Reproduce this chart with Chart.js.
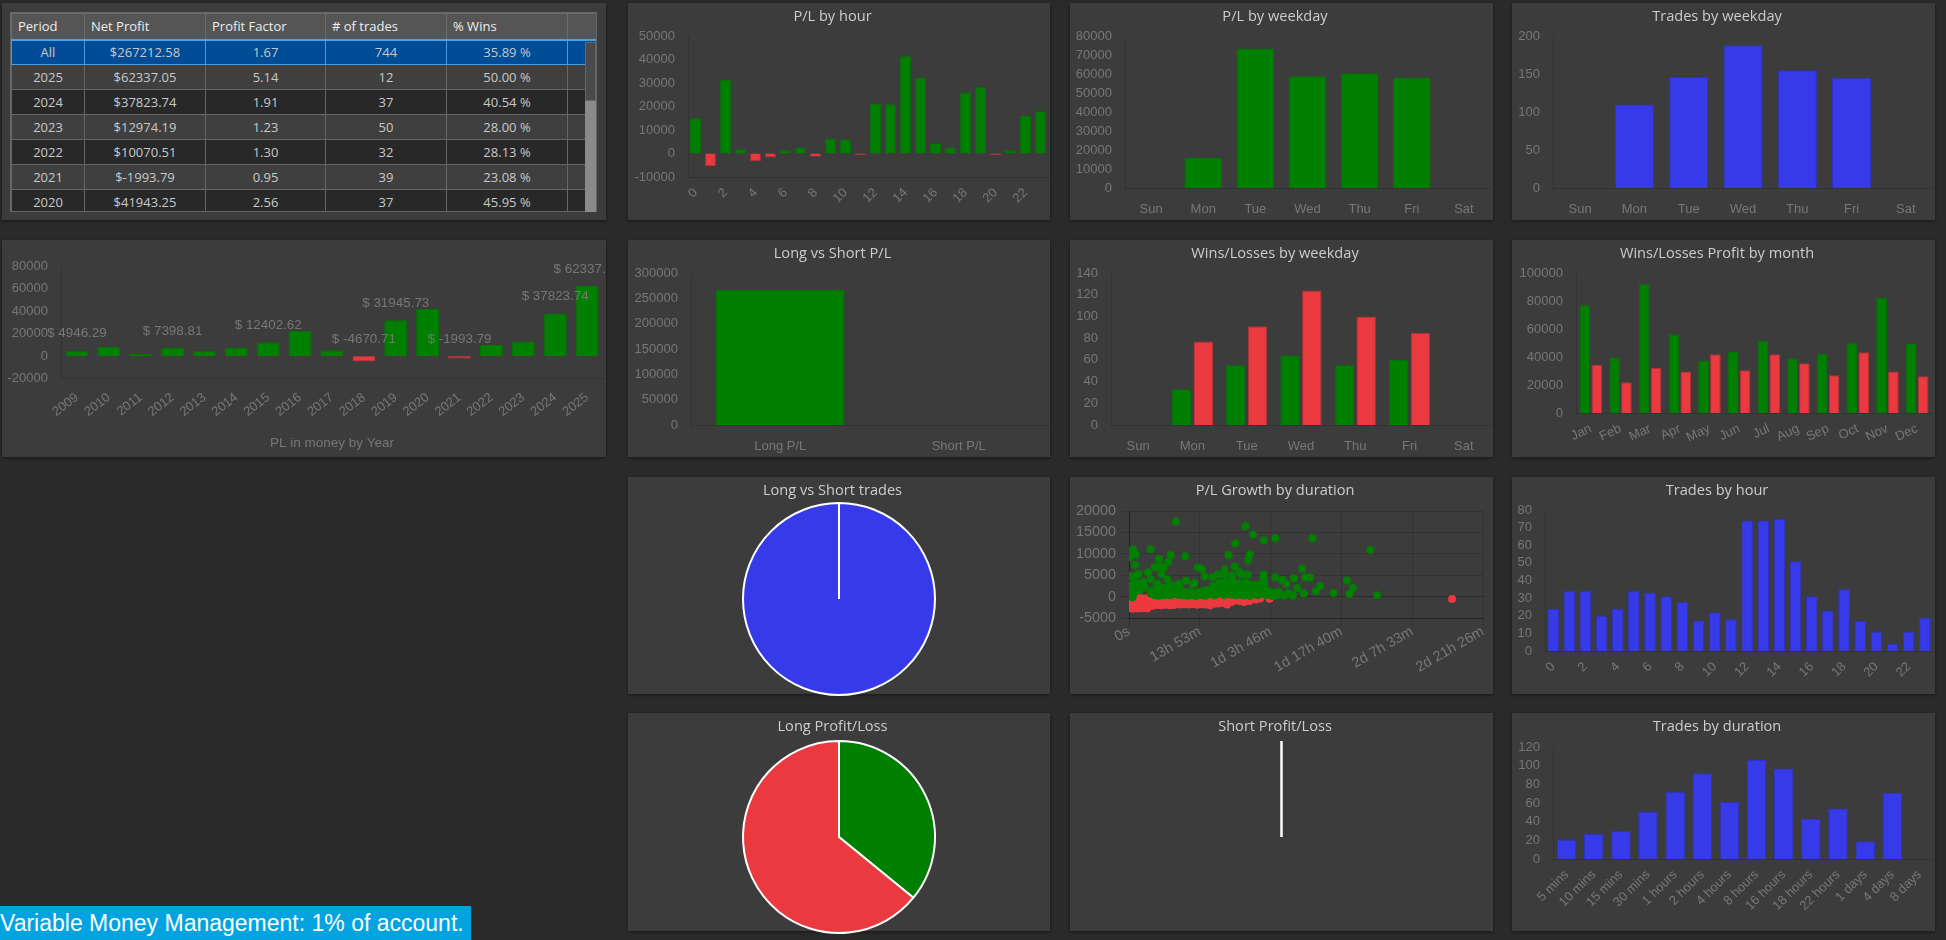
<!DOCTYPE html>
<html>
<head>
<meta charset="utf-8">
<title>Strategy report</title>
<script src="https://cdn.jsdelivr.net/npm/chart.js@4/dist/chart.umd.min.js"></script>
<style>
  html, body { margin: 0; padding: 0; background: #2a2a2a; width: 1946px; height: 940px; overflow: hidden; }
  .card { position: absolute; background: #3c3c3c; box-shadow: 0 1px 3px rgba(0,0,0,.45); }
  .card canvas { position: absolute; left: 0; top: 0; }
  #tableBox { position: absolute; left: 8px; top: 9px; width: 587px; height: 200px; overflow: hidden; border: 1px solid #666; box-sizing: border-box; }
  table { border-collapse: collapse; table-layout: fixed; width: 586px; font: 13px "Open Sans", sans-serif; color: #c8c8c8; }
  th { background: #555; color: #eee; font-weight: normal; text-align: left; height: 26px; padding: 0 0 0 6px; border: 1px solid #6c6c6c; border-bottom: 2px solid #4aa3e8; box-sizing: border-box; }
  td { height: 25px; padding: 0; text-align: center; border: 1px solid #666; box-sizing: border-box; }
  tr.even td { background: #3f3f3f; }
  tr.odd td { background: #282828; }
  tr.sel td { background: #004c97; border-color: #4a9be0; }
  #scrollTrack { position: absolute; left: 583px; top: 39px; width: 11px; height: 170px; background: #8a8a8a; }
  #scrollThumb { position: absolute; left: 583px; top: 39px; width: 11px; height: 59px; background: #4a4a4a; border: 1px solid #666; box-sizing: border-box; }
  #banner { position: absolute; left: 0; top: 906px; width: 471px; height: 34px; background: #03a3e0; color: #fff; font: 23px/34px "Liberation Sans", Arial, sans-serif; white-space: nowrap; }
</style>
</head>
<body>
<div id="banner">Variable Money Management: 1% of account.</div>
<script>
// table
const tableHeaders = ["Period", "Net Profit", "Profit Factor", "# of trades", "% Wins", ""];
const tablePeriods = ["All", "2025", "2024", "2023", "2022", "2021", "2020"];
const tableProfit = ["$267212.58", "$62337.05", "$37823.74", "$12974.19", "$10070.51", "$-1993.79", "$41943.25"];
const tableFactor = ["1.67", "5.14", "1.91", "1.23", "1.30", "0.95", "2.56"];
const tableTrades = ["744", "12", "37", "50", "32", "39", "37"];
const tableWins = ["35.89 %", "50.00 %", "40.54 %", "28.00 %", "28.13 %", "23.08 %", "45.95 %"];

// year chart
const years = ["2009","2010","2011","2012","2013","2014","2015","2016","2017","2018","2019","2020","2021","2022","2023","2024","2025"];
const yearProfit = [4946.29, 8470, 2000, 7398.81, 4700, 7300, 12402.62, 22500, 5300, -4670.71, 31945.73, 41943.25, -1993.79, 10070.51, 12974.19, 37823.74, 62337.05];
const labelledYears = ["2009", "2012", "2015", "2018", "2019", "2021", "2024", "2025"];

// hours and weekdays
const hours = ["0","1","2","3","4","5","6","7","8","9","10","11","12","13","14","15","16","17","18","19","20","21","22","23"];
const hourProfit = [15000, -5300, 31400, 1800, -3300, -1700, 1400, 2400, -1400, 6400, 6000, -600, 21200, 21000, 41400, 32300, 4400, 2600, 26000, 28500, -600, 1400, 16100, 18000];
const hourTrades = [24, 34, 34, 20, 24, 34, 33, 31, 28, 17, 22, 18, 74, 74, 75, 51, 31, 23, 35, 17, 11, 4, 11, 19];
const weekdays = ["Sun", "Mon", "Tue", "Wed", "Thu", "Fri", "Sat"];
const weekdayProfit = [0, 15800, 73400, 58800, 60400, 58100, 0];
const weekdayTrades = [0, 110, 146, 188, 155, 145, 0];
const weekdayWins = [0, 33, 55, 64, 55, 60, 0];
const weekdayLosses = [0, 77, 91, 124, 100, 85, 0];

// long vs short
const sideLabels = ["Long P/L", "Short P/L"];
const sideProfit = [267212.58, 0];
const sideTrades = [744, 0];
const longResults = [267, 477];
const shortResults = [0, 0];

// months
const months = ["Jan","Feb","Mar","Apr","May","Jun","Jul","Aug","Sep","Oct","Nov","Dec"];
const monthWins = [77000, 39600, 92000, 56200, 37400, 43600, 51700, 38900, 42200, 49800, 82500, 49300];
const monthLosses = [34400, 22000, 32200, 29600, 41900, 30600, 41900, 35500, 27000, 43400, 29600, 26300];

// trades by duration
const durations = ["5 mins","10 mins","15 mins","30 mins","1 hours","2 hours","4 hours","8 hours","16 hours","18 hours","22 hours","1 days","4 days","8 days"];
const durationTrades = [21, 27, 30, 51, 72, 92, 61, 106, 97, 43, 54, 19, 71, 0];

// scatter: [minutes held, profit]
const durationTickValues = [0, 833, 1666, 2500, 3333, 4166];
const durationTickLabels = ["0s", "13h 53m", "1d 3h 46m", "1d 17h 40m", "2d 7h 33m", "2d 21h 26m"];
const winningTrades = [
  [553,17550],[1372,16460],[1458,14430],[1588,13180],[1721,13650],[2160,13650],[1250,12480],[2838,10920],
  [255,11080],[47,11000],[27,10370],[78,9830],[8,9200],[490,9750],[662,9440],[1172,9750],[1423,9900],[1403,8580],
  [353,8810],[463,8110],[71,7410],[302,6860],[361,7020],[408,6860],[811,6860],[858,6470],[1243,7020],[2038,6550],
  [1125,6320],[1305,5690],[1584,5150],[1399,5150],[1325,5150],[8,4760],[114,5300],[55,4680],[223,5690],[380,5300],
  [447,4130],[255,4130],[670,3740],[772,3200],[753,2810],[890,4680],[980,4520],[1047,5150],[1125,5150],[1215,4910],
  [1584,4130],[1721,4520],[1803,3900],[1940,4290],[2074,4520],[2132,4450],[1850,2960],[2564,3740],[2634,2030],
  [2250,2500],[2200,1250],[1980,2030],[2407,860],[2595,620],[2920,310],[2058,700],[1929,230],[1811,230],
  [40,-160],[8,600],[50,450],[8,1900],[90,1400],[8,2600],[125,2600],[50,3000],[165,3400],[90,3100],[190,2100],[30,1200],[130,1500],
  [285,1500],[310,300],[330,3000],[345,2400],[370,900],[395,2000],[415,300],[455,1700],[480,2700],[505,600],[540,2500],[580,400],[595,3000],[620,1300],[650,500],[690,200],
  [730,1000],[755,350],[790,150],[825,1100],[860,400],[900,200],[935,1600],[965,700],[990,2500],[1010,300],[1035,1500],[1060,3100],[1075,800],[1100,2200],[1120,400],[1140,3600],[1160,1300],
  [1185,2700],[1200,500],[1220,3400],[1245,1700],[1265,300],[1280,2400],[1300,900],[1320,3000],[1340,1500],[1365,400],[1380,2600],[1400,1000],[1425,200],[1445,2200],[1470,800],
  [1490,1500],[1515,300],[1540,2300],[1565,900],[1590,2900],[1610,400],[1640,1300],[1665,600],[1700,900],[1730,250],[1760,1100],[1790,500],[1830,300],[1875,800],
  [905,1100],[945,600],[1015,1400],[1050,2300],[1085,1600],[1095,3200],[1110,900],[1130,2600],[1150,1900],[1170,3000],[1195,1500],[1210,2300],[1230,900],[1255,2800],
  [1270,1300],[1295,3100],[1310,1900],[1330,700],[1350,2300],[1375,3300],[1390,1700],[1415,2900],[1435,1300],[1455,600],[1480,2700],[1505,1900],[1525,1000],[1555,3000],[1575,1600],[1600,700],
  [255,700],[270,1100],[295,500],[325,1300],[350,200],[385,1500],[405,800],[435,500],[460,1000],[490,300],[520,1200],[555,700],[600,1000],[635,250],[665,1000],[705,700],[745,300],
  [775,800],[810,500],[845,900],[880,1400],[920,500],[980,1200],[1025,750],[1145,600],[1240,500],[1345,250],[1620,900],[1680,200],[1745,750]
];
const losingTrades = [
  [3802,-550],[0,-300],[0,-900],[0,-1500],[0,-2100],[0,-2700],[40,-350],[45,-1000],[35,-1700],[40,-2300],[50,-2850],
  [85,-500],[90,-1200],[85,-1800],[95,-2400],[100,-2800],[135,-300],[140,-900],[135,-1500],[145,-2100],[150,-2700],
  [180,-500],[185,-1100],[180,-1700],[190,-2300],[200,-2600],[225,-300],[230,-900],[225,-1500],[235,-2100],[215,-2800],
  [270,-450],[275,-1100],[265,-1700],[270,-2200],[320,-300],[325,-900],[315,-1500],[330,-1950],[370,-500],[375,-1100],[365,-1650],[380,-2000],
  [420,-350],[425,-950],[415,-1500],[430,-1900],[470,-600],[475,-1200],[465,-1750],[480,-2000],[520,-400],[525,-1000],[515,-1600],[530,-1950],
  [570,-500],[575,-1150],[565,-1700],[610,-350],[615,-1000],[605,-1850],[660,-600],[665,-1300],[655,-1800],[710,-450],[715,-1100],[705,-1850],
  [760,-600],[765,-1250],[755,-1750],[810,-350],[815,-1000],[805,-1900],[860,-500],[865,-1200],[855,-1800],[910,-450],[915,-1100],[905,-1850],
  [960,-600],[965,-1300],[955,-2000],[1010,-400],[1015,-1000],[1005,-1650],[1060,-550],[1065,-1200],[1055,-1600],[1110,-700],[1115,-1500],
  [1160,-500],[1165,-1000],[1155,-1850],[1210,-450],[1215,-1200],[1260,-800],[1265,-500],[1305,-1000],[1350,-600],[1355,-1250],[1420,-1000],[1500,-700],[1545,-400],[1650,-350],[1655,-500]
];

// shared style
const GREEN = "#007f00", RED = "#eb3a3f", BLUE = "#363ae8";
const GREEN_EDGE = "#007500", RED_EDGE = "#b23237", BLUE_EDGE = "#2f33c8";
const TICK = "#777";
const tickFont = { family: '"Liberation Sans", Arial, sans-serif', size: 13 };
const titleFont = { family: '"Open Sans", sans-serif', size: 14.6, weight: "normal" };
const plainNumber = v => String(v);
Chart.defaults.animation = false;
Chart.defaults.devicePixelRatio = 1;
Chart.defaults.plugins.legend.display = false;
Chart.defaults.plugins.tooltip.enabled = false;

// titles sit left of the card centre in the original, the bottom one is over the plot
Chart.register({
  id: "titlePlace",
  afterLayout(chart) {
    const t = chart.titleBlock;
    if (!t || !t.options.display) return;
    if (t.options.position === "bottom") {
      t.left = chart.chartArea.left;
      t.right = chart.chartArea.right;
    } else {
      t.left = 0;
      t.right = chart.width - 13;
    }
  }
});

function makeCard(x, y, w, h, canvasH) {
  const div = document.createElement("div");
  div.className = "card";
  div.style.cssText = `left:${x}px;top:${y}px;width:${w}px;height:${h}px`;
  document.body.appendChild(div);
  const canvas = document.createElement("canvas");
  canvas.width = w;
  canvas.height = canvasH || h;
  canvas.style.width = w + "px";
  canvas.style.height = (canvasH || h) + "px";
  div.appendChild(canvas);
  return { div, canvas, x, y, w, h };
}

function titleOpts(text, plotTop, cardY) {
  return {
    display: !!text, text, color: "#ccc", font: titleFont,
    padding: { top: 5, bottom: plotTop - cardY - 5 - 17.5 }
  };
}

function barDataset(data, color, edge) {
  return { data, backgroundColor: color, borderColor: edge, borderWidth: 1 };
}

function signedDataset(data) {
  return {
    data,
    backgroundColor: data.map(v => v < 0 ? RED : GREEN),
    borderColor: data.map(v => v < 0 ? RED_EDGE : GREEN_EDGE),
    borderWidth: 1
  };
}

// bar chart in a card; plot is the wanted plot rectangle in page pixels
function barChart(box, plot, opt) {
  const c = makeCard(box[0], box[1], box[2], box[3]);
  return new Chart(c.canvas, {
    type: "bar",
    data: { labels: opt.labels, datasets: opt.datasets },
    options: {
      responsive: false,
      layout: { padding: { right: box[0] + box[2] - plot[1] } },
      plugins: { title: titleOpts(opt.title, plot[2], box[1]) },
      scales: {
        x: {
          grid: { display: false },
          border: { color: "rgba(0,0,0,.14)" },
          ticks: {
            color: TICK, font: tickFont, padding: opt.rotation ? 0 : 6,
            minRotation: opt.rotation || 0, maxRotation: opt.rotation || 0,
            autoSkip: !!opt.every2, maxTicksLimit: opt.every2 ? 12 : undefined
          },
          afterFit: s => { s.height = box[1] + box[3] - plot[3]; }
        },
        y: {
          min: opt.min, max: opt.max,
          grid: { display: false },
          border: { color: "rgba(0,0,0,.14)" },
          ticks: { color: TICK, font: tickFont, stepSize: opt.step, padding: 5, autoSkip: false, callback: plainNumber },
          afterFit: s => { s.width = plot[0] - box[0]; }
        }
      }
    }
  });
}

// draws radial white line for arcs with no size, as the original chart shows
const zeroArcLine = {
  id: "zeroArcLine",
  afterDatasetsDraw(chart) {
    const ctx = chart.ctx;
    chart.getDatasetMeta(0).data.forEach(arc => {
      if (arc.circumference !== 0) return;
      ctx.save();
      ctx.strokeStyle = "#fff";
      ctx.lineWidth = 2;
      ctx.beginPath();
      ctx.moveTo(arc.x, arc.y);
      ctx.lineTo(arc.x + Math.cos(arc.startAngle) * arc.outerRadius, arc.y + Math.sin(arc.startAngle) * arc.outerRadius);
      ctx.stroke();
      ctx.restore();
    });
  }
};

function pieChart(box, top, diameter, title, data, colors) {
  const canvasH = box[3] + 8;
  const c = makeCard(box[0], box[1], box[2], box[3], canvasH);
  return new Chart(c.canvas, {
    type: "pie",
    data: { labels: ["A", "B"], datasets: [{ data, backgroundColor: colors, borderColor: "#fff", borderWidth: 2 }] },
    options: {
      responsive: false,
      layout: { padding: { bottom: canvasH - (top - box[1]) - diameter } },
      plugins: { title: titleOpts(title, top, box[1]) }
    },
    plugins: [zeroArcLine]
  });
}

// year chart labels above bars, clipped by canvas edge
const yearValueLabels = {
  id: "yearValueLabels",
  afterDatasetsDraw(chart) {
    const ctx = chart.ctx;
    ctx.save();
    ctx.font = `13.4px ${tickFont.family}`;
    ctx.fillStyle = TICK;
    ctx.textAlign = "center";
    ctx.textBaseline = "middle";
    chart.getDatasetMeta(0).data.forEach((bar, i) => {
      if (!labelledYears.includes(years[i])) return;
      const v = yearProfit[i];
      ctx.fillText("$ " + v, bar.x, Math.min(bar.y, bar.base) - 17);
    });
    ctx.restore();
  }
};

// table card
const tableCard = makeCard(2, 3, 604, 217);
tableCard.canvas.remove();
const colWidths = [73, 121, 120, 121, 121, 30];
let html = "<table><colgroup>" + colWidths.map(w => `<col style="width:${w}px">`).join("") + "</colgroup><thead><tr>" +
  tableHeaders.map(h => `<th>${h}</th>`).join("") + "</tr></thead><tbody>";
tablePeriods.forEach((p, i) => {
  const cls = i === 0 ? "sel" : (i % 2 ? "even" : "odd");
  html += `<tr class="${cls}"><td>${p}</td><td>${tableProfit[i]}</td><td>${tableFactor[i]}</td><td>${tableTrades[i]}</td><td>${tableWins[i]}</td><td></td></tr>`;
});
html += "</tbody></table>";
const tableBox = document.createElement("div");
tableBox.id = "tableBox";
tableBox.innerHTML = html;
tableCard.div.appendChild(tableBox);
const track = document.createElement("div");
track.id = "scrollTrack";
const thumb = document.createElement("div");
thumb.id = "scrollThumb";
tableCard.div.appendChild(track);
tableCard.div.appendChild(thumb);

// year chart
{
  const box = [2, 240, 604, 217];
  const c = makeCard(box[0], box[1], box[2], box[3]);
  new Chart(c.canvas, {
    type: "bar",
    data: { labels: years, datasets: [signedDataset(yearProfit)] },
    options: {
      responsive: false,
      layout: { padding: { top: 26, right: 3 } },
      plugins: {
        title: {
          display: true, position: "bottom", text: "PL in money by Year", color: TICK,
          font: { family: tickFont.family, size: 13.5, weight: "normal" }, padding: { top: 5, bottom: 6 }
        }
      },
      scales: {
        x: {
          grid: { display: false },
          border: { color: "rgba(0,0,0,.14)" },
          ticks: { color: TICK, font: tickFont, padding: 3, minRotation: 38, maxRotation: 38, autoSkip: false },
          afterFit: s => { s.height = 51; }
        },
        y: {
          min: -20000, max: 80000,
          grid: { display: false },
          border: { color: "rgba(0,0,0,.14)" },
          ticks: { color: TICK, font: tickFont, stepSize: 20000, padding: 5, callback: plainNumber },
          afterFit: s => { s.width = 59; }
        }
      }
    },
    plugins: [yearValueLabels]
  });
}

// first row
barChart([628, 3, 422, 217], [688, 1048, 36, 177], {
  title: "P/L by hour", labels: hours, datasets: [signedDataset(hourProfit)],
  min: -10000, max: 50000, step: 10000, rotation: 45, every2: true
});
barChart([1070, 3, 423, 217], [1125, 1490, 36, 188], {
  title: "P/L by weekday", labels: weekdays, datasets: [signedDataset(weekdayProfit)],
  min: 0, max: 80000, step: 10000
});
barChart([1512, 3, 423, 217], [1553, 1933, 36, 188], {
  title: "Trades by weekday", labels: weekdays, datasets: [barDataset(weekdayTrades, BLUE, BLUE_EDGE)],
  min: 0, max: 200, step: 50
});

// second row
barChart([628, 240, 422, 217], [691, 1048, 273, 425], {
  title: "Long vs Short P/L", labels: sideLabels, datasets: [signedDataset(sideProfit)],
  min: 0, max: 300000, step: 50000
});
barChart([1070, 240, 423, 217], [1111, 1491, 273, 425], {
  title: "Wins/Losses by weekday", labels: weekdays,
  datasets: [barDataset(weekdayWins, GREEN, GREEN_EDGE), barDataset(weekdayLosses, RED, RED_EDGE)],
  min: 0, max: 140, step: 20
});
barChart([1512, 240, 423, 217], [1576, 1932, 273, 413], {
  title: "Wins/Losses Profit by month", labels: months,
  datasets: [barDataset(monthWins, GREEN, GREEN_EDGE), barDataset(monthLosses, RED, RED_EDGE)],
  min: 0, max: 100000, step: 20000, rotation: 25
});

// third row
pieChart([628, 477, 422, 217], 502, 194, "Long vs Short trades", [sideTrades[0], sideTrades[1]], [BLUE, RED]);
{
  const box = [1070, 477, 423, 217], plot = [1129, 1483, 511, 618];
  const c = makeCard(box[0], box[1], box[2], box[3]);
  const scatterFont = { family: tickFont.family, size: 14.4 };
  const toPoints = list => list.map(p => ({ x: p[0], y: p[1] }));
  new Chart(c.canvas, {
    type: "scatter",
    data: {
      datasets: [
        { data: toPoints(winningTrades), backgroundColor: GREEN, borderWidth: 0, pointRadius: 4 },
        { data: toPoints(losingTrades), backgroundColor: RED, borderWidth: 0, pointRadius: 4 }
      ]
    },
    options: {
      responsive: false,
      layout: { padding: { right: box[0] + box[2] - plot[1] } },
      plugins: { title: titleOpts("P/L Growth by duration", plot[2], box[1]) },
      scales: {
        x: {
          type: "linear", min: 0, max: 4166,
          grid: { color: "rgba(0,0,0,.14)" },
          border: { color: "rgba(0,0,0,.3)" },
          afterBuildTicks: s => { s.ticks = durationTickValues.map(v => ({ value: v })); },
          ticks: {
            color: TICK, font: scatterFont, padding: -3, minRotation: 30, maxRotation: 30, autoSkip: false,
            callback: v => durationTickLabels[durationTickValues.indexOf(v)]
          },
          afterFit: s => { s.height = box[1] + box[3] - plot[3]; }
        },
        y: {
          min: -5000, max: 20000,
          grid: { color: ctx => ctx.tick.value === 0 ? "rgba(0,0,0,.3)" : "rgba(0,0,0,.14)" },
          border: { color: "rgba(0,0,0,.3)" },
          ticks: { color: TICK, font: scatterFont, stepSize: 5000, padding: 5, callback: plainNumber },
          afterFit: s => { s.width = plot[0] - box[0]; }
        }
      }
    }
  });
}
barChart([1512, 477, 423, 217], [1545, 1933, 510, 651], {
  title: "Trades by hour", labels: hours, datasets: [barDataset(hourTrades, BLUE, BLUE_EDGE)],
  min: 0, max: 80, step: 10, rotation: 45, every2: true
});

// fourth row
pieChart([628, 713, 422, 218], 740, 194, "Long Profit/Loss", longResults, [GREEN, RED]);
pieChart([1070, 713, 423, 218], 740, 194, "Short Profit/Loss", shortResults, [GREEN, RED]);
barChart([1512, 713, 423, 218], [1553, 1933, 747, 859], {
  title: "Trades by duration", labels: durations, datasets: [barDataset(durationTrades, BLUE, BLUE_EDGE)],
  min: 0, max: 120, step: 20, rotation: 45
});
</script>
</body>
</html>
